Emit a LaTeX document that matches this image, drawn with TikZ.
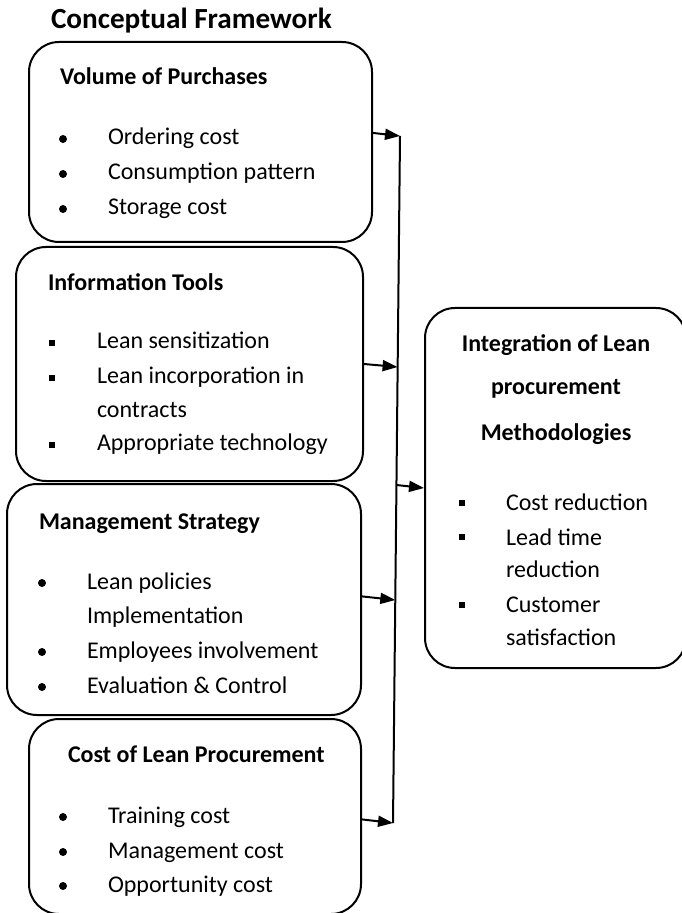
\documentclass[tikz,border=0pt]{standalone}
\usepackage{fontspec}
\setmainfont{Carlito}
\usetikzlibrary{arrows.meta}

\begin{document}
\begin{tikzpicture}[x=0.5pt,y=-0.5pt,line width=1pt,
 frame node/.style={draw,rounded corners=15pt,inner sep=0pt},
 head node/.style={anchor=base west,inner sep=0pt,font=\fontsize{12}{14}\selectfont\bfseries},
 item node/.style={anchor=base west,inner sep=0pt,font=\fontsize{12}{14}\selectfont},
 dot node/.style={circle,fill,inner sep=0pt,minimum size=4pt},
 square node/.style={rectangle,fill,inner sep=0pt,minimum size=3.4pt},
 link/.style={-{Triangle[length=7.5pt,width=5.5pt]}}]

  \useasboundingbox (0,0) rectangle (681,913);

  \node[head node,font=\fontsize{14.6}{17}\selectfont\bfseries] (title) at (50,29) {Conceptual Framework};

  % left column
  \node[frame node,minimum width=171.5pt,minimum height=100pt] (vol) at (200.5,142) {};
  \node[frame node,minimum width=173.5pt,minimum height=117pt] (info) at (189.5,364) {};
  \node[frame node,minimum width=177pt,minimum height=115.5pt] (mgmt) at (184,599.5) {};
  \node[frame node,minimum width=166pt,minimum height=97.5pt] (cost) at (195,816.5) {};

  \node[head node] (volh) at (59,85) {Volume of Purchases};
  \foreach \y in {139,174,209} \node[dot node] (vold\y) at (63,\y) {};
  \foreach \y/\t in {145/Ordering cost, 180/Consumption pattern, 215/Storage cost}
   \node[item node] (volt\y) at (107,\y) {\t};

  \node[head node] (infoh) at (47,291) {Information Tools};
  \foreach \y in {343,378,445} \node[square node] (infod\y) at (52,\y) {};
  \foreach \y/\t in {349/Lean sensitization, 384/Lean incorporation in, 417/contracts, 451/Appropriate technology}
   \node[item node] (infot\y) at (96,\y) {\t};

  \node[head node] (mgmth) at (38,529) {Management Strategy};
  \foreach \y in {583,652,687} \node[dot node] (mgmtd\y) at (42,\y) {};
  \foreach \y/\t in {589/Lean policies, 623/Implementation, 658/Employees involvement, 693/Evaluation \& Control}
   \node[item node] (mgmtt\y) at (86,\y) {\t};

  \node[head node] (costh) at (67,762) {Cost of Lean Procurement};
  \foreach \y in {817,852,886} \node[dot node] (costd\y) at (63,\y) {};
  \foreach \y/\t in {823/Training cost, 858/Management cost, 892/Opportunity cost}
   \node[item node] (costt\y) at (107,\y) {\t};

  % right box
  \node[frame node,minimum width=130.5pt,minimum height=180pt] (integ) at (555.5,488) {};
  \foreach \y/\t in {352/Integration of Lean, 395/procurement, 441/Methodologies}
   \node[head node,anchor=base] (integh\y) at (556,\y) {\t};
  \foreach \y in {503,537,605} \node[square node] (integd\y) at (462,\y) {};
  \foreach \y/\t in {510/Cost reduction, 545/Lead time, 577/reduction, 612/Customer, 645/satisfaction}
   \node[item node] (integt\y) at (505,\y) {\t};

  % collecting line
  \coordinate (b1) at (400,136);
  \coordinate (b2) at (397.6,367);
  \coordinate (b0) at (396.3,485);
  \coordinate (b3) at (395.3,600);
  \coordinate (b4) at (393,823);

  \draw (b1) -- (b4);
  \draw[link] (vol.3) -- (b1);
  \draw[link] (info.east) -- (b2);
  \draw[link] (mgmt.1) -- (b3);
  \draw[link] (cost.-1) -- (b4);
  \draw[link] (b0) -- (integ.west);
\end{tikzpicture}
\end{document}
